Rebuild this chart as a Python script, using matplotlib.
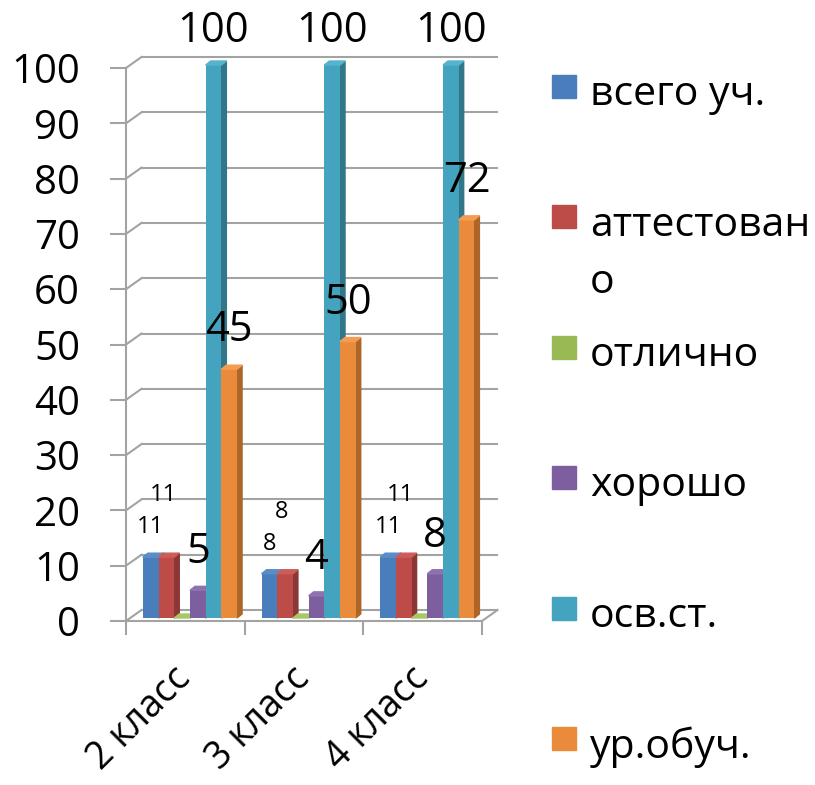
import textwrap

import matplotlib
matplotlib.use("Agg")
import matplotlib.pyplot as plt
from matplotlib.patches import Polygon, Rectangle

plt.rcParams["font.family"] = ["Open Sans", "DejaVu Sans"]

# data
categories = ["2 класс", "3 класс", "4 класс"]
series_names = ["всего уч.", "аттестовано", "отлично", "хорошо", "осв.ст.", "ур.обуч."]
vsego = [11, 8, 11]
attestovano = [11, 8, 11]
otlichno = [0, 0, 0]
horosho = [5, 4, 8]
osv_st = [100, 100, 100]
ur_obuch = [45, 50, 72]
y_ticks = list(range(0, 101, 10))

series_values = [vsego, attestovano, otlichno, horosho, osv_st, ur_obuch]
front_colors = ["#4a7dbb", "#bd4b48", "#98b954", "#7d5fa0", "#44a3bf", "#ea8b3c"]
side_colors = ["#365d8c", "#8c3735", "#6f873d", "#5b4576", "#317789", "#ad6528"]
top_colors = ["#5a8cc8", "#cc5c59", "#a8c866", "#8e72b0", "#56b3cd", "#f39c52"]
# label offset above the bar top (pixels), label size; None = no label
label_offsets = [30, 62, None, 38, 34, 39]
label_sizes = [17, 17, 30, 30, 30, 30]
label_dx = [0, -3, 0, 0, 0, 0]

W, H = 815, 785
px_per_pt = 100 / 72.0
grey = "#a3a3a3"
tick_size = 29
cat_size = 27
legend_size = 29.5

fig = plt.figure(figsize=(W / 100, H / 100), dpi=100)
ax = fig.add_axes([126 / W, (H - 621) / H, 356 / W, 553 / H])
ax.set_xlim(-0.5, 2.5)
ax.set_ylim(0, 100)

# pseudo-3D geometry in data units
unit_x = 356 / 3.0          # px per category
unit_y = 553 / 100.0        # px per value unit
back_dx = 15.5 / unit_x
back_dy = 11.0 / unit_y
lift = 3.0 / unit_y
depth_dx = 5.0 / unit_x
depth_dy = 4.0 / unit_y
bw = 15.7 / unit_x
group_shift = 0.039

# back wall gridlines + left-wall diagonals
for v in y_ticks:
    ax.plot([-0.5, -0.5 + back_dx], [v, v + back_dy], color=grey, lw=1.5, clip_on=False, zorder=1)
    ax.plot([-0.5 + back_dx, 2.5 + back_dx], [v + back_dy, v + back_dy], color=grey, lw=1.5,
            clip_on=False, zorder=1)
# right side of floor
ax.plot([2.5, 2.5 + back_dx], [0, back_dy], color=grey, lw=1.5, clip_on=False, zorder=1)

z = 3
for ci in range(len(categories)):
    for si, vals in enumerate(series_values):
        v = vals[ci]
        xc = ci + group_shift + (si - 2.5) * bw
        x0, x1 = xc - bw / 2, xc + bw / 2
        top = v + lift
        ax.bar(xc, v, bw, bottom=lift, color=front_colors[si], zorder=z, clip_on=False)
        ax.add_patch(Polygon([(x1, lift), (x1 + depth_dx, lift + depth_dy),
                              (x1 + depth_dx, top + depth_dy), (x1, top)],
                             closed=True, color=side_colors[si], zorder=z - 0.5, clip_on=False))
        ax.add_patch(Polygon([(x0, top), (x1, top), (x1 + depth_dx, top + depth_dy),
                              (x0 + depth_dx, top + depth_dy)],
                             closed=True, color=top_colors[si], zorder=z, clip_on=False))
        z += 1
        if label_offsets[si] is not None:
            ax.annotate(str(v), (xc, top), xytext=(label_dx[si] / px_per_pt, label_offsets[si] / px_per_pt),
                        textcoords="offset points", ha="center", va="center",
                        fontsize=label_sizes[si], color="black", zorder=100, annotation_clip=False)

# axes styling
for side in ["top", "right"]:
    ax.spines[side].set_visible(False)
ax.spines["left"].set_color(grey)
ax.spines["bottom"].set_color(grey)
ax.spines["left"].set_linewidth(1.5)
ax.spines["bottom"].set_linewidth(1.5)
ax.spines["left"].set_zorder(2)
ax.spines["bottom"].set_zorder(200)

ax.set_yticks(y_ticks)
ax.set_yticklabels([str(t) for t in y_ticks], fontsize=tick_size)
ax.tick_params(axis="y", length=16 / px_per_pt, width=1.5, color=grey, pad=30 / px_per_pt)

ax.set_xticks([-0.5, 0.5, 1.5, 2.5])
ax.set_xticklabels([])
ax.tick_params(axis="x", which="major", length=14 / px_per_pt, width=1.5, color=grey)
ax.set_xticks([0, 1, 2], minor=True)
ax.set_xticklabels(categories, minor=True, fontsize=cat_size, rotation=45, ha="right",
                   rotation_mode="anchor", va="center")
ax.tick_params(axis="x", which="minor", length=0, pad=52 / px_per_pt)

# legend, drawn by hand to follow the reference spacing
for i, name in enumerate(series_names):
    y_px = 90 + i * 130.4
    fig.add_artist(Rectangle((552 / W, 1 - (y_px + 8) / H), 24 / W, 23 / H,
                             transform=fig.transFigure, color=front_colors[i]))
    for li, line in enumerate(textwrap.wrap(name, 10, break_long_words=True)):
        fig.text(590 / W, 1 - (y_px + li * 57) / H, line,
                 fontsize=legend_size, ha="left", va="center_baseline")

fig.savefig("out.png", dpi=100)
